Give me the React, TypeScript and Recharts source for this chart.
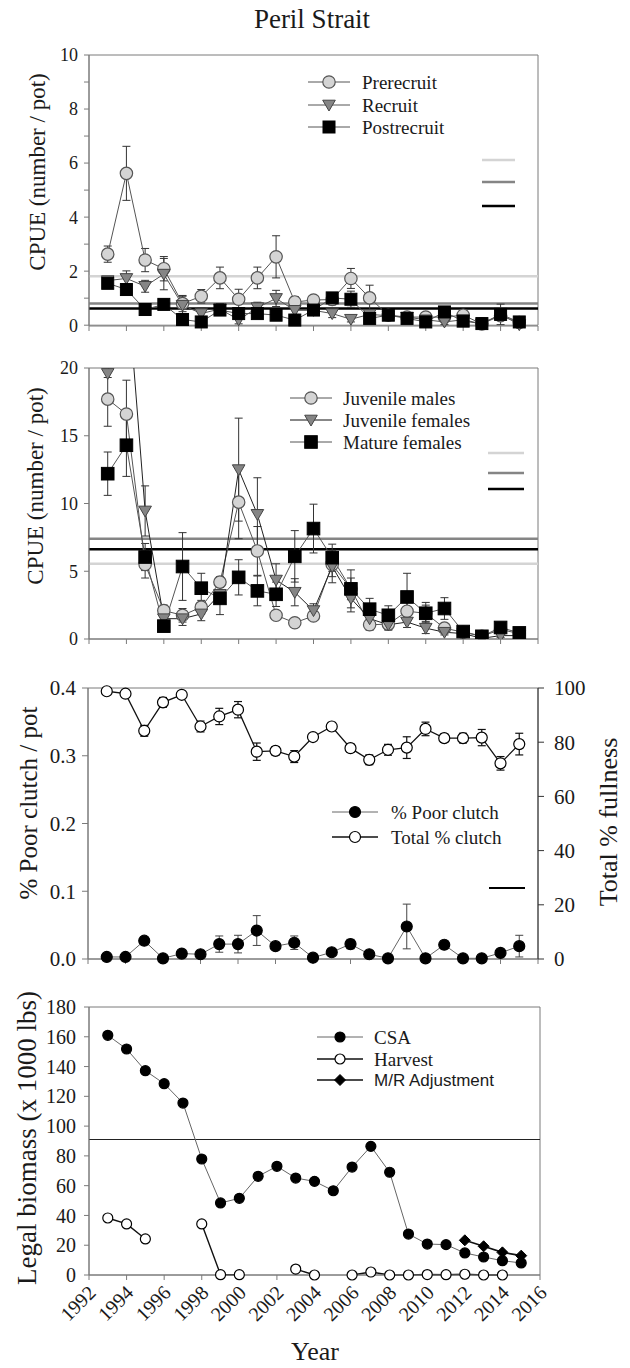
import React from 'react';
import { LineChart, Line, XAxis, YAxis, ErrorBar, ReferenceLine, ReferenceArea } from 'recharts';

// survey years and axis ticks
const years = [1993, 1994, 1995, 1996, 1997, 1998, 1999, 2000, 2001, 2002, 2003, 2004, 2005, 2006, 2007, 2008, 2009, 2010, 2011, 2012, 2013, 2014, 2015];
const yearTicks = [1992, 1994, 1996, 1998, 2000, 2002, 2004, 2006, 2008, 2010, 2012, 2014, 2016];

// panel 1: male CPUE by class
const prerecruit = [2.63, 5.62, 2.41, 2.09, 0.8, 1.07, 1.75, 0.96, 1.75, 2.53, 0.86, 0.93, 0.95, 1.73, 1.01, 0.37, 0.3, 0.3, 0.3, 0.37, 0.05, 0.35, 0.1];
const prerecruitErr = [0.3, 1.0, 0.43, 0.45, 0.3, 0.25, 0.4, 0.37, 0.4, 0.78, 0.2, 0.15, 0.2, 0.37, 0.47, 0.1, 0.1, 0.1, 0.1, 0.1, 0.05, 0.1, 0.05];
const recruit = [1.65, 1.73, 1.44, 1.89, 0.74, 0.43, 0.6, 0.2, 0.65, 0.99, 0.55, 0.55, 0.43, 0.22, 0.4, 0.35, 0.3, 0.2, 0.12, 0.2, 0.05, 0.4, 0.02];
const recruitErr = [0.15, 0.28, 0.22, 0.58, 0.33, 0.2, 0.2, 0.15, 0.2, 0.3, 0.15, 0.15, 0.15, 0.1, 0.15, 0.1, 0.1, 0.1, 0.1, 0.1, 0.05, 0.38, 0.05];
const postrecruit = [1.55, 1.32, 0.58, 0.77, 0.21, 0.12, 0.56, 0.43, 0.43, 0.37, 0.19, 0.56, 1.01, 0.96, 0.25, 0.37, 0.25, 0.12, 0.49, 0.15, 0.06, 0.4, 0.12];
const postrecruitErr = [0.15, 0.2, 0.1, 0.2, 0.1, 0.08, 0.1, 0.1, 0.1, 0.1, 0.08, 0.1, 0.15, 0.3, 0.08, 0.08, 0.08, 0.05, 0.1, 0.05, 0.03, 0.1, 0.05];
const maleMeans = [1.81, 0.8, 0.62]; // prerecruit, recruit, postrecruit

// panel 2: female / juvenile CPUE
const juvMales = [17.7, 16.6, 5.5, 2.1, 1.75, 2.35, 4.2, 10.1, 6.5, 1.75, 1.2, 1.7, 5.5, 3.7, 1.05, 1.1, 2.05, 1.9, 0.8, 0.5, 0.2, 0.7, 0.4];
const juvMalesErr = [2.0, 2.5, 1.0, 0.4, 0.5, 0.5, 0.4, 2.7, 1.8, 0.3, 0.2, 0.3, 0.9, 0.8, 0.4, 0.4, 0.8, 0.6, 0.3, 0.2, 0.1, 0.2, 0.15];
const juvFemales = [19.6, 27, 9.45, 1.5, 1.5, 1.85, 3.3, 12.5, 9.2, 4.35, 3.45, 2.1, 5.35, 3.0, 1.5, 1.05, 1.25, 0.8, 0.5, 0.4, 0.05, 0.25, 0.25];
const juvFemalesErr = [0.3, 0, 1.85, 0.4, 0.5, 0.5, 0.6, 3.8, 2.7, 1.2, 1.0, 0.5, 1.2, 1.0, 0.5, 0.4, 0.4, 0.4, 0.2, 0.2, 0.05, 0.15, 0.1];
const matureFemales = [12.2, 14.3, 6.05, 0.95, 5.35, 3.75, 3.0, 4.55, 3.55, 3.3, 6.1, 8.15, 6.0, 3.7, 2.2, 1.75, 3.1, 1.9, 2.25, 0.55, 0.2, 0.85, 0.45];
const matureFemalesErr = [1.6, 2.3, 1.0, 0.3, 2.5, 1.1, 1.2, 1.3, 1.1, 0.9, 1.9, 1.8, 1.0, 1.4, 0.8, 0.7, 1.75, 0.8, 0.8, 0.3, 0.1, 0.3, 0.2];
const femaleMeans = [5.55, 7.4, 6.63]; // juv males, juv females, mature females

// panel 3: clutch
const poorClutch = [0.003, 0.003, 0.027, 0.001, 0.008, 0.007, 0.022, 0.022, 0.042, 0.019, 0.024, 0.002, 0.01, 0.022, 0.007, 0.001, 0.048, 0.001, 0.021, 0.001, 0.001, 0.009, 0.019];
const poorClutchErr = [0, 0, 0.006, 0, 0.002, 0.002, 0.012, 0.013, 0.022, 0.004, 0.01, 0, 0.003, 0.007, 0.002, 0, 0.033, 0, 0.006, 0, 0, 0.004, 0.016];
const totalClutch = [98.8, 97.9, 84.2, 94.7, 97.5, 85.8, 89.5, 92.0, 76.5, 76.8, 74.7, 81.9, 85.8, 77.8, 73.5, 77.2, 78.0, 84.9, 81.5, 81.5, 81.7, 72.2, 79.3];
const totalClutchErr = [0.8, 0.8, 2.0, 1.8, 1.0, 2.0, 3.0, 3.0, 3.2, 1.5, 2.2, 1.2, 1.5, 1.5, 1.8, 2.0, 4.0, 2.5, 1.5, 1.8, 3.0, 2.5, 4.0];

// panel 4: legal biomass
const csa = [161, 151.8, 137.2, 128.5, 115.5, 77.9, 48.4, 51.5, 66.3, 73, 65.1, 62.9, 56.6, 72.5, 86.4, 69, 27.5, 20.8, 20.4, 14.8, 12.1, 9.6, 8.1];
const harvest = [38.3, 34.3, 24.2, null, null, 34.3, 0.2, 0.2, null, null, 4, 0, null, 0, 2, 0, 0, 0.3, 0.2, 0.5, 0, 0, null];
const mrAdjust = [null, null, null, null, null, null, null, null, null, null, null, null, null, null, null, null, null, null, null, 23.3, 19.3, 15.2, 13.0];
const threshold = 91;

const SERIF = "'Liberation Serif', 'Times New Roman', serif";
const SANS = "'Liberation Sans', Arial, sans-serif";
const AXIS = '#7a7a7a';
const LIGHT = '#d4d4d4';
const MID = '#858585';

const rows = (cols: Record<string, (number | null)[]>) =>
  years.map((year, i) => {
    const r: any = { year };
    Object.keys(cols).forEach((k) => (r[k] = cols[k][i]));
    return r;
  });

const data1 = rows({ pre: prerecruit, preErr: prerecruitErr, rec: recruit, recErr: recruitErr, post: postrecruit, postErr: postrecruitErr });
const data2 = rows({ jm: juvMales, jmErr: juvMalesErr, jf: juvFemales, jfErr: juvFemalesErr, mf: matureFemales, mfErr: matureFemalesErr });
const data3 = rows({ poor: poorClutch, poorErr: poorClutchErr, total: totalClutch, totalErr: totalClutchErr });
const data4 = rows({ csa, harvest, mr: mrAdjust });

type Kind = 'circle' | 'square' | 'triangle' | 'diamond';

function Marker({ kind, x, y, fill, stroke, s }: { kind: Kind; x: number; y: number; fill: string; stroke: string; s: number }) {
  if (kind === 'circle') return <circle cx={x} cy={y} r={s} fill={fill} stroke={stroke} strokeWidth={1.2} />;
  if (kind === 'square') return <rect x={x - s} y={y - s} width={s * 2} height={s * 2} fill={fill} stroke={stroke} strokeWidth={1} />;
  if (kind === 'triangle')
    return <path d={`M${x - s * 1.05},${y - s * 0.8} L${x + s * 1.05},${y - s * 0.8} L${x},${y + s} Z`} fill={fill} stroke={stroke} strokeWidth={1} />;
  return <path d={`M${x},${y - s} L${x + s},${y} L${x},${y + s} L${x - s},${y} Z`} fill={fill} stroke={stroke} strokeWidth={1} />;
}

const dot = (kind: Kind, fill: string, stroke: string, s: number) => (p: any) => {
  if (p.cx == null || p.cy == null || p.value == null) return <g key={`n-${p.index}`} />;
  return (
    <g key={`d-${p.index}`}>
      <Marker kind={kind} x={p.cx} y={p.cy} fill={fill} stroke={stroke} s={s} />
    </g>
  );
};

const tickStyle = (size: number) => ({ fill: '#1a1a1a', fontSize: size, fontFamily: SERIF });

// rotated year labels under the bottom panel
const yearTick = (props: any) => {
  const { x, y, payload } = props;
  return (
    <g key={`yt-${payload.value}`} transform={`translate(${x + 8},${y + 12})`}>
      <text transform="rotate(-45)" textAnchor="end" fill="#1a1a1a" fontSize={20} fontFamily={SERIF}>
        {payload.value}
      </text>
    </g>
  );
};

function Legend({ x1, x2, tx, items, font = 19 }: { x1: number; x2: number; tx: number; items: any[]; font?: number }) {
  const mx = (x1 + x2) / 2;
  return (
    <g>
      {items.map((it) => (
        <g key={it.label}>
          <line x1={x1} x2={x2} y1={it.y} y2={it.y} stroke={it.line} strokeWidth={it.lw || 1} />
          <Marker kind={it.kind} x={mx} y={it.y} fill={it.fill} stroke={it.stroke} s={it.s} />
          <text x={tx} y={it.y} dominantBaseline="central" fontSize={it.font || font} fontFamily={it.family || SERIF} fill="#1a1a1a">
            {it.label}
          </text>
        </g>
      ))}
    </g>
  );
}

const m4 = { top: 32, right: 90, bottom: 38, left: 29 };

export default function App() {
  return (
    <div style={{ position: 'absolute', left: 0, top: 0, width: 630, height: 1368, background: '#fff' }}>
      {/* panel 1 */}
      <div style={{ position: 'absolute', left: 0, top: 0 }}>
        <LineChart width={630} height={345} data={data1} margin={{ top: 55, right: 92, bottom: 5, left: 29 }}>
          <XAxis type="number" dataKey="year" domain={[1992, 2016]} ticks={yearTicks} interval={0} tickFormatter={() => ''} stroke={AXIS} tickSize={5} height={14} />
          <YAxis type="number" domain={[0, 10]} ticks={[0, 1, 2, 3, 4, 5, 6, 7, 8, 9, 10]} interval={0}
            tickFormatter={(v: number) => (v % 2 === 0 ? String(v) : '')} width={60} stroke={AXIS} tickSize={5} tickMargin={6} tick={tickStyle(18)} />
          <ReferenceArea x1={1992} x2={2016} y1={0} y2={10} fill="none" stroke={AXIS} />
          <ReferenceLine y={maleMeans[0]} stroke={LIGHT} strokeWidth={2.5} />
          <ReferenceLine y={maleMeans[1]} stroke={MID} strokeWidth={2.5} />
          <ReferenceLine y={maleMeans[2]} stroke="#000" strokeWidth={2.5} />
          <Line dataKey="pre" stroke="#555" strokeWidth={1} isAnimationActive={false} dot={dot('circle', LIGHT, '#555', 6.2)}>
            <ErrorBar dataKey="preErr" direction="y" width={4} stroke="#333" strokeWidth={1} isAnimationActive={false} />
          </Line>
          <Line dataKey="rec" stroke="#555" strokeWidth={1} isAnimationActive={false} dot={dot('triangle', MID, '#444', 6)}>
            <ErrorBar dataKey="recErr" direction="y" width={4} stroke="#333" strokeWidth={1} isAnimationActive={false} />
          </Line>
          <Line dataKey="post" stroke="#555" strokeWidth={1} isAnimationActive={false} dot={dot('square', '#000', '#000', 6)}>
            <ErrorBar dataKey="postErr" direction="y" width={4} stroke="#333" strokeWidth={1} isAnimationActive={false} />
          </Line>
        </LineChart>
      </div>

      {/* panel 2 */}
      <div style={{ position: 'absolute', left: 0, top: 345 }}>
        <LineChart width={630} height={310} data={data2} margin={{ top: 23, right: 92, bottom: 2, left: 29 }}>
          <XAxis type="number" dataKey="year" domain={[1992, 2016]} ticks={yearTicks} interval={0} tickFormatter={() => ''} stroke={AXIS} tickSize={5} height={14} />
          <YAxis type="number" domain={[0, 20]} allowDataOverflow ticks={[0, 5, 10, 15, 20]} interval={0}
            width={60} stroke={AXIS} tickSize={5} tickMargin={6} tick={tickStyle(18)} />
          <ReferenceArea x1={1992} x2={2016} y1={0} y2={20} fill="none" stroke={AXIS} />
          <ReferenceLine y={femaleMeans[0]} stroke={LIGHT} strokeWidth={2.5} />
          <ReferenceLine y={femaleMeans[1]} stroke={MID} strokeWidth={2.5} />
          <ReferenceLine y={femaleMeans[2]} stroke="#000" strokeWidth={2.5} />
          <Line dataKey="jm" stroke="#555" strokeWidth={1} isAnimationActive={false} dot={dot('circle', LIGHT, '#555', 6.2)}>
            <ErrorBar dataKey="jmErr" direction="y" width={4} stroke="#333" strokeWidth={1} isAnimationActive={false} />
          </Line>
          <Line dataKey="jf" stroke="#222" strokeWidth={1} isAnimationActive={false} dot={dot('triangle', MID, '#444', 6)}>
            <ErrorBar dataKey="jfErr" direction="y" width={4} stroke="#333" strokeWidth={1} isAnimationActive={false} />
          </Line>
          <Line dataKey="mf" stroke="#555" strokeWidth={1} isAnimationActive={false} dot={dot('square', '#000', '#000', 6.3)}>
            <ErrorBar dataKey="mfErr" direction="y" width={4} stroke="#333" strokeWidth={1} isAnimationActive={false} />
          </Line>
        </LineChart>
      </div>

      {/* panel 3 */}
      <div style={{ position: 'absolute', left: 0, top: 655 }}>
        <LineChart width={630} height={320} data={data3} margin={{ top: 33, right: 32, bottom: 2, left: 28 }}>
          <XAxis type="number" dataKey="year" domain={[1992, 2016]} ticks={yearTicks} interval={0} tickFormatter={() => ''} stroke={AXIS} tickSize={5} height={14} />
          <YAxis yAxisId="left" type="number" domain={[0, 0.4]} ticks={[0, 0.1, 0.2, 0.3, 0.4]} interval={0}
            tickFormatter={(v: number) => v.toFixed(1)} width={60} stroke={AXIS} tickSize={6} tickMargin={6} tick={tickStyle(21)} />
          <YAxis yAxisId="right" orientation="right" type="number" domain={[0, 100]} ticks={[0, 20, 40, 60, 80, 100]} interval={0}
            width={60} stroke="#333" tickSize={6} tickMargin={10} tick={tickStyle(21)} />
          <ReferenceArea yAxisId="left" x1={1992} x2={2016} y1={0} y2={0.4} fill="none" stroke={AXIS} />
          <Line yAxisId="left" dataKey="poor" stroke="#666" strokeWidth={1} isAnimationActive={false} dot={dot('circle', '#000', '#000', 5.5)}>
            <ErrorBar dataKey="poorErr" direction="y" width={4} stroke="#444" strokeWidth={1} isAnimationActive={false} />
          </Line>
          <Line yAxisId="right" dataKey="total" stroke="#111" strokeWidth={1.3} isAnimationActive={false} dot={dot('circle', '#fff', '#000', 5.5)}>
            <ErrorBar dataKey="totalErr" direction="y" width={4} stroke="#111" strokeWidth={1.2} isAnimationActive={false} />
          </Line>
        </LineChart>
      </div>

      {/* panel 4 */}
      <div style={{ position: 'absolute', left: 0, top: 975 }}>
        <LineChart width={630} height={393} data={data4} margin={m4}>
          <XAxis type="number" dataKey="year" domain={[1992, 2016]} ticks={yearTicks} interval={0} tickFormatter={() => ''} stroke={AXIS} tickSize={5} height={55} />
          <YAxis type="number" domain={[0, 180]} ticks={[0, 20, 40, 60, 80, 100, 120, 140, 160, 180]} interval={0}
            width={60} stroke={AXIS} tickSize={5} tickMargin={8} tick={tickStyle(20)} />
          <ReferenceArea x1={1992} x2={2016} y1={0} y2={180} fill="none" stroke={AXIS} />
          <ReferenceLine y={threshold} stroke="#222" strokeWidth={1} />
          <Line dataKey="csa" stroke="#666" strokeWidth={1} isAnimationActive={false} dot={dot('circle', '#000', '#000', 5)} />
          <Line dataKey="harvest" stroke="#111" strokeWidth={1.4} connectNulls={false} isAnimationActive={false} dot={dot('circle', '#fff', '#000', 5)} />
          <Line dataKey="mr" stroke="#111" strokeWidth={1.6} isAnimationActive={false} dot={dot('diamond', '#000', '#000', 5.5)} />
        </LineChart>
      </div>

      {/* panel 4 year labels, same x scale as panel 4 */}
      <div style={{ position: 'absolute', left: 0, top: 975, pointerEvents: 'none' }}>
        <LineChart width={630} height={393} data={data4} margin={m4}>
          <XAxis type="number" dataKey="year" domain={[1992, 2016]} ticks={yearTicks} interval={0} axisLine={false} tickLine={false} tickSize={5} height={55} tick={yearTick} />
          <YAxis type="number" domain={[0, 180]} width={60} axisLine={false} tickLine={false} tick={false} />
        </LineChart>
      </div>

      {/* titles, axis labels, legends */}
      <svg width={630} height={1368} style={{ position: 'absolute', left: 0, top: 0, pointerEvents: 'none' }}>
        <text x={312} y={28} textAnchor="middle" fontSize={27} fontFamily={SERIF} fill="#1a1a1a">Peril Strait</text>

        <text transform="translate(37,172) rotate(-90)" textAnchor="middle" dominantBaseline="central" fontSize={23} fontFamily={SERIF} fill="#1a1a1a">CPUE (number / pot)</text>
        <text transform="translate(35,486) rotate(-90)" textAnchor="middle" dominantBaseline="central" fontSize={23} fontFamily={SERIF} fill="#1a1a1a">CPUE (number / pot)</text>
        <text transform="translate(28,803) rotate(-90)" textAnchor="middle" dominantBaseline="central" fontSize={25} fontFamily={SERIF} fill="#1a1a1a">% Poor clutch / pot</text>
        <text transform="translate(608,822) rotate(-90)" textAnchor="middle" dominantBaseline="central" fontSize={26} fontFamily={SERIF} fill="#1a1a1a">Total % fullness</text>
        <text transform="translate(27,1138) rotate(-90)" textAnchor="middle" dominantBaseline="central" fontSize={27} fontFamily={SERIF} fill="#1a1a1a">Legal biomass (x 1000 lbs)</text>
        <text x={315} y={1360} textAnchor="middle" fontSize={26} fontFamily={SERIF} fill="#1a1a1a">Year</text>

        <Legend x1={308} x2={350} tx={362} items={[
          { label: 'Prerecruit', y: 82, line: '#555', kind: 'circle', fill: LIGHT, stroke: '#555', s: 6.2 },
          { label: 'Recruit', y: 105, line: '#555', kind: 'triangle', fill: MID, stroke: '#444', s: 6 },
          { label: 'Postrecruit', y: 127, line: '#555', kind: 'square', fill: '#000', stroke: '#000', s: 6 },
        ]} />
        <line x1={482} x2={515} y1={160} y2={160} stroke={LIGHT} strokeWidth={2.5} />
        <line x1={482} x2={515} y1={182} y2={182} stroke={MID} strokeWidth={2.5} />
        <line x1={482} x2={515} y1={206} y2={206} stroke="#000" strokeWidth={2.5} />

        <Legend x1={290} x2={332} tx={343} items={[
          { label: 'Juvenile males', y: 398, line: '#555', kind: 'circle', fill: LIGHT, stroke: '#555', s: 6.2 },
          { label: 'Juvenile females', y: 420, line: '#111', kind: 'triangle', fill: MID, stroke: '#444', s: 6 },
          { label: 'Mature females', y: 442, line: '#555', kind: 'square', fill: '#000', stroke: '#000', s: 6.3 },
        ]} />
        <line x1={488} x2={524} y1={453} y2={453} stroke={LIGHT} strokeWidth={2.5} />
        <line x1={488} x2={524} y1={473} y2={473} stroke={MID} strokeWidth={2.5} />
        <line x1={488} x2={524} y1={489} y2={489} stroke="#000" strokeWidth={2.5} />

        <Legend x1={332} x2={378} tx={391} items={[
          { label: '% Poor clutch', y: 812, line: '#666', kind: 'circle', fill: '#000', stroke: '#000', s: 5.5 },
          { label: 'Total % clutch', y: 837, line: '#111', lw: 1.3, kind: 'circle', fill: '#fff', stroke: '#000', s: 5.5 },
        ]} />
        <line x1={489} x2={525} y1={888} y2={888} stroke="#000" strokeWidth={2} />

        <Legend x1={317} x2={363} tx={374} items={[
          { label: 'CSA', y: 1037, line: '#666', kind: 'circle', fill: '#000', stroke: '#000', s: 5 },
          { label: 'Harvest', y: 1059, line: '#111', lw: 1.4, kind: 'circle', fill: '#fff', stroke: '#000', s: 5 },
          { label: 'M/R Adjustment', y: 1080, line: '#111', lw: 1.6, kind: 'diamond', fill: '#000', stroke: '#000', s: 5.5, font: 17, family: SANS },
        ]} />
      </svg>
    </div>
  );
}
